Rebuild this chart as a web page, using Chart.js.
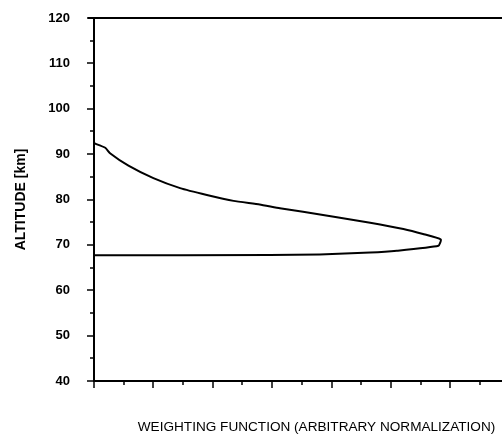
<!DOCTYPE html>
<html>
<head>
<meta charset="utf-8">
<script src="https://cdn.jsdelivr.net/npm/chart.js@4"></script>
<style>
  body { margin: 0; background: #fff; }
  #wrap { width: 502px; height: 436px; position: relative; }
</style>
</head>
<body>
<div id="wrap"><canvas id="c"></canvas></div>
<script>
// weighting function (arbitrary units) vs altitude, traced around the loop
const weight = [0, 0.19, 0.27, 0.58, 1.0, 1.45, 1.9, 2.35, 2.79, 3.13, 3.52, 4.09, 4.65, 5.21, 5.54, 5.84, 5.80, 5.10, 4.65, 3.80, 2.96, 0];
const altitude = [92.4, 91.4, 90.2, 87.45, 84.7, 82.5, 81.0, 79.7, 78.9, 78.05, 77.3, 76.1, 74.9, 73.5, 72.4, 71.2, 69.8, 68.7, 68.3, 67.9, 67.75, 67.7];

const yTicks = [40, 50, 60, 70, 80, 90, 100, 110, 120];
const xMajorTicks = [0, 1, 2, 3, 4, 5, 6];
const xTitle = "WEIGHTING FUNCTION (ARBITRARY NORMALIZATION)";
const yTitle = "ALTITUDE [km]";

const points = weight.map((w, i) => ({ x: w, y: altitude[i] }));

// draws tick marks (major + minor), top frame line and x title
const frame = {
  id: "frame",
  afterDraw(chart) {
    const { ctx, chartArea } = chart;
    const xs = chart.scales.x;
    const ys = chart.scales.y;
    ctx.save();
    ctx.strokeStyle = "#000";
    ctx.lineWidth = 2;
    // top line
    ctx.beginPath();
    ctx.moveTo(chartArea.left - 6, chartArea.top);
    ctx.lineTo(chartArea.right, chartArea.top);
    ctx.stroke();

    ctx.lineWidth = 1.5;
    // y ticks, every 5 km
    for (let v = 40; v <= 120; v += 5) {
      const y = Math.round(ys.getPixelForValue(v));
      const len = yTicks.includes(v) ? 7 : 4;
      ctx.beginPath();
      ctx.moveTo(chartArea.left, y);
      ctx.lineTo(chartArea.left - len, y);
      ctx.stroke();
    }
    // x ticks, every half unit
    for (let v = 0; v <= xs.max; v += 0.5) {
      const x = Math.round(xs.getPixelForValue(v));
      const len = xMajorTicks.includes(v) ? 7 : 4;
      ctx.beginPath();
      ctx.moveTo(x, chartArea.bottom);
      ctx.lineTo(x, chartArea.bottom + len);
      ctx.stroke();
    }

    ctx.fillStyle = "#000";
    ctx.font = "13.6px 'Liberation Sans', Arial, sans-serif";
    ctx.textAlign = "center";
    ctx.textBaseline = "middle";
    ctx.fillText(xTitle, 316.5, 427);
    ctx.restore();
  },
};

new Chart(document.getElementById("c"), {
  type: "scatter",
  data: {
    datasets: [
      {
        data: points,
        showLine: true,
        borderColor: "#000",
        borderWidth: 2,
        pointRadius: 0,
        tension: 0.15,
        fill: false,
      },
    ],
  },
  options: {
    responsive: true,
    maintainAspectRatio: false,
    animation: false,
    layout: { padding: { top: 18, right: 0, left: 0, bottom: 0 } },
    plugins: { legend: { display: false }, tooltip: { enabled: false } },
    scales: {
      x: {
        type: "linear",
        min: 0,
        max: 6.87,
        grid: { display: false, drawTicks: false },
        border: { display: true, color: "#000", width: 2 },
        ticks: { display: false },
        afterFit: (s) => { s.height = 55; },
      },
      y: {
        min: 40,
        max: 120,
        // tick marks are drawn by the plugin; tickLength only spaces the labels
        grid: { display: false, drawTicks: true, tickLength: 21 },
        border: { display: true, color: "#000", width: 2 },
        ticks: {
          stepSize: 10,
          padding: 3,
          color: "#000",
          font: { family: "'Liberation Sans', Arial, sans-serif", size: 13, weight: "bold" },
        },
        title: {
          display: true,
          text: yTitle,
          color: "#000",
          padding: { top: 13, bottom: 0 },
          font: { family: "'Liberation Sans', Arial, sans-serif", size: 14, weight: "bold" },
        },
        afterFit: (s) => { s.width = 94; },
      },
    },
  },
  plugins: [frame],
});
</script>
</body>
</html>
